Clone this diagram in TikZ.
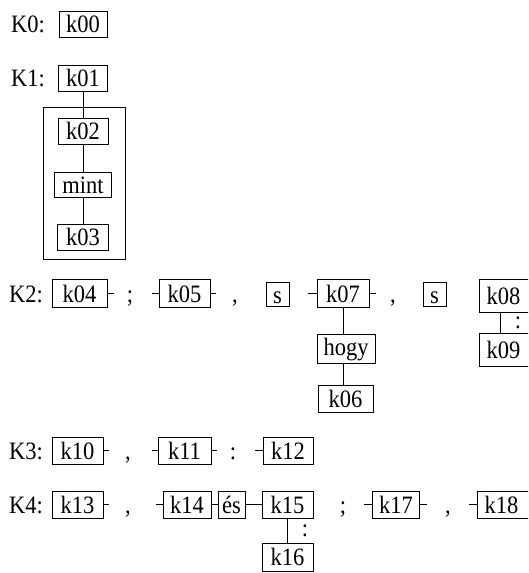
\documentclass[tikz,border=0pt]{standalone}
\usepackage{fontspec}
\setmainfont[FakeStretch=0.9]{Liberation Serif}
\begin{document}
\begin{tikzpicture}[x=1pt,y=-1pt,
  every node/.style={font=\fontsize{25}{30}\selectfont, inner sep=0pt, text height=17pt, text depth=0pt},
  bx/.style={draw, line width=0.85pt, minimum height=28pt},
  sbx/.style={draw, line width=0.85pt, minimum height=24pt, minimum width=23pt},
  lbl/.style={anchor=west},
  ln/.style={line width=0.85pt}]
\useasboundingbox (0,0) rectangle (528,573);
\clip (0,0) rectangle (528,573);
\fill[white] (0,0) rectangle (528,573);

% K0
\node[lbl] (K0) at (11,24) {K0:};
\node[bx, minimum width=48pt, minimum height=26pt] (k00) at (83,24) {k00};

% K1
\node[lbl] (K1) at (11,78) {K1:};
\node[bx, minimum width=49pt, minimum height=26pt] (k01) at (83,78) {k01};
\node[draw, line width=0.85pt, minimum width=82pt, minimum height=152pt] (grp) at (84,183) {};
\node[bx, minimum width=50pt, minimum height=26pt] (k02) at (83,131) {k02};
\node[bx, minimum width=57pt, minimum height=25pt] (mint) at (83,184.5) {mint};
\node[bx, minimum width=51pt, minimum height=26pt] (k03) at (83,237) {k03};
\draw[ln] (k01.south) -- (k02.north);
\draw[ln] (k02.south) -- (mint.north);
\draw[ln] (mint.south) -- (k03.north);

% K2
\node[lbl] (K2) at (9,293.5) {K2:};
\node[bx, minimum width=55pt] (k04) at (79.5,293.5) {k04};
\draw[ln] (k04.east) -- ++(7,0);
\node (p1) at (130,293.5) {;};
\node[bx, minimum width=51pt] (k05) at (184.5,293.5) {k05};
\draw[ln] (k05.west) -- ++(-7,0);
\draw[ln] (k05.east) -- ++(6,0);
\node (p2) at (235,293.5) {,};
\node[sbx] (s1) at (277.5,294.5) {s};
\node[bx, minimum width=52pt] (k07) at (343,293.5) {k07};
\draw[ln] (k07.west) -- ++(-9,0);
\draw[ln] (k07.east) -- ++(7,0);
\node (p3) at (393,293.5) {,};
\node[sbx] (s2) at (434.5,294.5) {s};
\node[bx, minimum width=63pt, minimum height=33pt, text width=48pt, align=left] (k08) at (510.5,295.5) {k08};
\node[bx, minimum width=63pt, minimum height=33pt, text width=48pt, align=left] (k09) at (510.5,349.5) {k09};
\coordinate (c8) at (500,0);
\draw[ln] (c8 |- k08.south) -- (c8 |- k09.north);
\node[anchor=base] (col1) at (518,328) {:};

\node[bx, minimum width=58pt, minimum height=29pt, text depth=4pt] (hogy) at (346,348.5) {hogy};
\node[bx, minimum width=55pt, minimum height=27pt] (k06) at (345.5,398.5) {k06};
\draw[ln] (k07.south) -- (k07.south |- hogy.north);
\draw[ln] (k07.south |- hogy.south) -- (k07.south |- k06.north);

% K3
\node[lbl] (K3) at (9,450.5) {K3:};
\node[bx, minimum width=51pt, minimum height=27pt] (k10) at (77.5,450.5) {k10};
\draw[ln] (k10.east) -- ++(6,0);
\node (p4) at (128,450.5) {,};
\node[bx, minimum width=53pt, minimum height=27pt] (k11) at (184.5,450.5) {k11};
\draw[ln] (k11.west) -- ++(-6,0);
\draw[ln] (k11.east) -- ++(6,0);
\node (p5) at (233,450.5) {:};
\node[bx, minimum width=50pt, minimum height=27pt] (k12) at (288,450.5) {k12};
\draw[ln] (k12.west) -- ++(-8,0);

% K4
\node[lbl] (K4) at (9,504.5) {K4:};
\node[bx, minimum width=51pt, minimum height=27pt] (k13) at (77.5,504.5) {k13};
\draw[ln] (k13.east) -- ++(6,0);
\node (p6) at (128,504.5) {,};
\node[bx, minimum width=48pt, minimum height=27pt] (k14) at (187,504.5) {k14};
\draw[ln] (k14.west) -- ++(-7,0);
\node[bx, minimum width=27pt, minimum height=27pt] (es) at (231.5,504.5) {és};
\node[bx, minimum width=51pt, minimum height=27pt] (k15) at (287.5,504.5) {k15};
\draw[ln] (k14.east) -- (es.west);
\draw[ln] (es.east) -- (k15.west);
\node[bx, minimum width=51pt, minimum height=28pt] (k16) at (287.5,557) {k16};
\draw[ln] (k15.south) -- (k16.north);
\node[anchor=base] (col2) at (305,536) {:};
\node (p7) at (343,504.5) {;};
\node[bx, minimum width=47pt, minimum height=27pt] (k17) at (396,504.5) {k17};
\draw[ln] (k17.west) -- ++(-8,0);
\draw[ln] (k17.east) -- ++(7,0);
\node (p8) at (448,504.5) {,};
\node[bx, minimum width=63pt, minimum height=27pt, text width=48pt, align=left] (k18) at (508.5,504.5) {k18};
\draw[ln] (k18.west) -- ++(-8,0);
\end{tikzpicture}
\end{document}
